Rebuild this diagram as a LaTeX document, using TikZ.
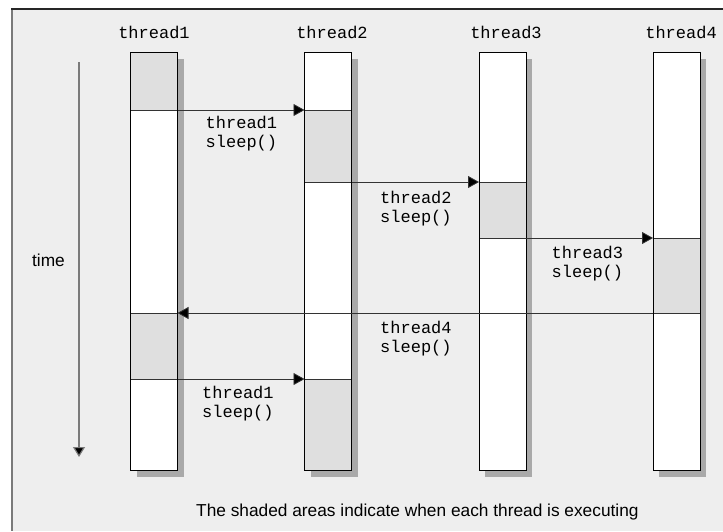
\documentclass[tikz,border=0pt]{standalone}
\usepackage{fontspec}
\setmainfont{Liberation Sans}
\newfontfamily\codefont{Liberation Mono}
\usetikzlibrary{arrows.meta}

\definecolor{panel}{HTML}{EEEEEE}
\definecolor{busy}{HTML}{DFDFDF}
\definecolor{dropshade}{HTML}{A9A9A9}
\definecolor{rulecol}{HTML}{333333}
\definecolor{edgegray}{HTML}{7A7A7A}

% two-line code label, baseline at the first line
\newcommand{\codepair}[2]{\begin{tabular}[t]{@{}l@{}}#1\\#2\end{tabular}}

\begin{document}
\begin{tikzpicture}[x=1pt,y=-1pt,
  lane/.style={draw=black, line width=0.9pt, fill=white, minimum width=47pt,
               minimum height=418pt, inner sep=0pt, outer sep=0pt},
  busycell/.style={draw=rulecol, line width=0.8pt, fill=busy, minimum width=47pt,
               inner sep=0pt, outer sep=0pt},
  header/.style={anchor=base, inner sep=0pt, font=\codefont\fontsize{17}{19}\selectfont},
  codelbl/.style={anchor=base west, inner sep=0pt, font=\codefont\fontsize{17}{19}\selectfont},
  plain/.style={anchor=base west, inner sep=0pt, font=\fontsize{17.3}{20}\selectfont},
  flow/.style={draw=rulecol, line width=0.8pt, -{Triangle[length=11pt,width=12pt,fill=black]}},
  timeflow/.style={draw=edgegray, line width=1.2pt, -{Triangle[length=10pt,width=12pt,fill=black]}}
]
\useasboundingbox (0,0) rectangle (723,531);
\fill[white] (0,0) rectangle (723,531);

% framed panel
\fill[panel] (12,9) rectangle (723,531);
\draw[edgegray, line width=1.3pt] (12,9) -- (12,531);
\draw[black!85, line width=1.3pt] (11.4,9) -- (723,9);

% thread lanes
\node[lane] (lane1) at (154,261) {};
\node[lane] (lane2) at (328,261) {};
\node[lane] (lane3) at (502.5,261) {};
\node[lane] (lane4) at (676.5,261) {};

% drop shadows behind the lanes
\foreach \l in {lane1,lane2,lane3,lane4}{
  \fill[dropshade] ([shift={(6,7)}]\l.north west) rectangle ([shift={(6,7)}]\l.south east);
  \fill[white] (\l.north west) rectangle (\l.south east);
}

% executing intervals
\node[busycell, minimum height=58pt] (b1) at (154,81) {};
\node[busycell, minimum height=72pt] (b2) at (328,146) {};
\node[busycell, minimum height=56pt] (b3) at (502.5,210) {};
\node[busycell, minimum height=75pt] (b4) at (676.5,275.5) {};
\node[busycell, minimum height=66pt] (b5) at (154,346) {};
\node[busycell, minimum height=91pt] (b6) at (328,424.5) {};

% lane outlines on top
\foreach \l in {lane1,lane2,lane3,lane4}{
  \draw[black, line width=0.9pt] (\l.north west) rectangle (\l.south east);
}

% hand-over arrows
\draw[flow] (b1.south east) -- (b2.north west);
\draw[flow] (b2.south east) -- (b3.north west);
\draw[flow] (b3.south east) -- (b4.north west);
\draw[flow] (b4.south west) -- (b5.north east);
\draw[flow] (b5.south east) -- (b6.north west);

% headers
\node[header] (h1) at (154,38) {thread1};
\node[header] (h2) at (332,38) {thread2};
\node[header] (h3) at (506,38) {thread3};
\node[header] (h4) at (681,38) {thread4};

% sleep labels
\node[codelbl] (s1) at (205.5,128) {\codepair{thread1}{sleep()}};
\node[codelbl] (s2) at (380,203) {\codepair{thread2}{sleep()}};
\node[codelbl] (s3) at (551.5,258) {\codepair{thread3}{sleep()}};
\node[codelbl] (s4) at (380,333) {\codepair{thread4}{sleep()}};
\node[codelbl] (s5) at (202,398) {\codepair{thread1}{sleep()}};

% time axis
\coordinate (tstart) at (79,62);
\coordinate (tend) at (79,457);
\draw[timeflow] (tstart) -- (tend);
\node[plain, anchor=base] (timelbl) at (48.5,266) {time};

% caption
\node[plain] (caption) at (196,516) {The shaded areas indicate when each thread is executing};
\end{tikzpicture}
\end{document}
